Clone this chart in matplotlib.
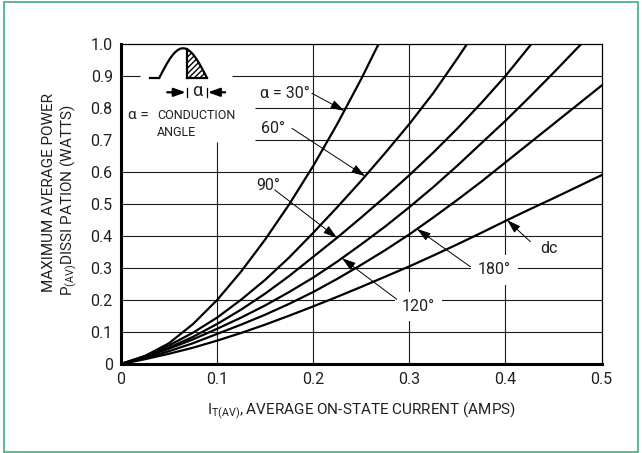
import numpy as np
import matplotlib
matplotlib.use('Agg')
import matplotlib.pyplot as plt
from matplotlib.patches import Rectangle

plt.rcParams['font.family'] = ['Roboto', 'DejaVu Sans']
plt.rcParams['mathtext.fontset'] = 'custom'
plt.rcParams['mathtext.rm'] = 'Roboto'
plt.rcParams['mathtext.it'] = 'Roboto'

ink = '#231f20'

# average on-state current (A) vs. max average power dissipation (W), per conduction angle
i_30 = [0, 0.025, 0.05, 0.075, 0.1, 0.125, 0.15, 0.175, 0.2, 0.225, 0.25, 0.268]
p_30 = [0, 0.025, 0.065, 0.125, 0.2, 0.289, 0.389, 0.499, 0.619, 0.75, 0.891, 1.0]

i_60 = [0, 0.025, 0.05, 0.075, 0.1, 0.125, 0.15, 0.175, 0.2, 0.225, 0.25, 0.275, 0.3,
        0.325, 0.35, 0.36]
p_60 = [0, 0.025, 0.058, 0.098, 0.145, 0.201, 0.263, 0.333, 0.41, 0.49, 0.573, 0.66, 0.75,
        0.847, 0.955, 1.0]

i_90 = [0, 0.025, 0.05, 0.075, 0.1, 0.125, 0.15, 0.175, 0.2, 0.225, 0.25, 0.275, 0.3,
        0.325, 0.35, 0.375, 0.4, 0.427]
p_90 = [0, 0.022, 0.051, 0.085, 0.125, 0.17, 0.22, 0.275, 0.335, 0.395, 0.458, 0.523, 0.59,
        0.661, 0.736, 0.816, 0.9, 1.0]

i_120 = [0, 0.025, 0.05, 0.075, 0.1, 0.125, 0.15, 0.175, 0.2, 0.225, 0.25, 0.275, 0.3,
         0.325, 0.35, 0.375, 0.4, 0.425, 0.45, 0.475, 0.479]
p_120 = [0, 0.022, 0.048, 0.077, 0.11, 0.145, 0.183, 0.225, 0.27, 0.32, 0.374, 0.43, 0.49,
         0.553, 0.62, 0.69, 0.76, 0.834, 0.91, 0.988, 1.0]

i_180 = [0, 0.025, 0.05, 0.075, 0.1, 0.125, 0.15, 0.175, 0.2, 0.225, 0.25, 0.275, 0.3,
         0.325, 0.35, 0.375, 0.4, 0.425, 0.45, 0.475, 0.5]
p_180 = [0, 0.018, 0.04, 0.065, 0.094, 0.123, 0.154, 0.188, 0.225, 0.266, 0.31, 0.356, 0.405,
         0.458, 0.513, 0.57, 0.63, 0.69, 0.75, 0.81, 0.87]

i_dc = [0, 0.025, 0.05, 0.075, 0.1, 0.125, 0.15, 0.175, 0.2, 0.225, 0.25, 0.275, 0.3,
        0.325, 0.35, 0.375, 0.4, 0.425, 0.45, 0.475, 0.5]
p_dc = [0, 0.015, 0.032, 0.051, 0.073, 0.097, 0.123, 0.151, 0.18, 0.21, 0.241, 0.273, 0.305,
        0.339, 0.374, 0.41, 0.447, 0.483, 0.518, 0.554, 0.59]

x_ticks = [0, 0.1, 0.2, 0.3, 0.4, 0.5]
x_ticklabels = ['0', '0.1', '0.2', '0.3', '0.4', '0.5']
y_ticks = [0, 0.1, 0.2, 0.3, 0.4, 0.5, 0.6, 0.7, 0.8, 0.9, 1.0]
y_ticklabels = ['0', '0.1', '0.2', '0.3', '0.4', '0.5', '0.6', '0.7', '0.8', '0.9', '1.0']

curves = [(i_30, p_30), (i_60, p_60), (i_90, p_90), (i_120, p_120), (i_180, p_180), (i_dc, p_dc)]
# label text, label position, arrow tail, arrow tip x
labels = [('α = 30°', (0.171, 0.846), (0.1986, 0.846), 0.2323),
          ('60°', (0.158, 0.7365), (0.1778, 0.7365), 0.254),
          ('90°', (0.153, 0.559), (0.160, 0.544), 0.2247),
          ('120°', (0.3097, 0.179), (0.287, 0.202), 0.2299),
          ('180°', (0.3884, 0.294), (0.3635, 0.304), 0.308),
          ('dc', (0.445, 0.3615), (0.426, 0.382), 0.4018)]

fig = plt.figure(figsize=(6.42, 4.53), dpi=100)
ax = fig.add_axes([0.1885, 0.1965, 0.7485, 0.7064])
ax.set_xlim(0, 0.5)
ax.set_ylim(0, 1.0)

# grid, with gaps where the inset legend sits
gkw = dict(color='#1a1a1a', lw=0.8, zorder=1)
for y in y_ticks[1:-1]:
    if y == 0.9:
        ax.hlines(y, 0, 0.0198, **gkw)
        ax.hlines(y, 0.1153, 0.5, **gkw)
    elif y in (0.7, 0.8):
        ax.hlines(y, 0.1396, 0.5, **gkw)
    else:
        ax.hlines(y, 0, 0.5, **gkw)
for x in x_ticks[1:-1]:
    if x == 0.1:
        ax.vlines(x, 0, 0.695, **gkw)
    else:
        ax.vlines(x, 0, 1.0, **gkw)

for xs, ps in curves:
    ax.plot(xs, ps, color='black', lw=1.6, zorder=3, solid_joinstyle='round')

for (txt, pos, tail, tip_x), (xs, ps) in zip(labels, curves):
    box = None
    if txt in ('120°', '180°'):
        box = dict(boxstyle='square,pad=0.45', fc='white', ec='none')
    ax.text(pos[0], pos[1], txt, ha='center', va='center', fontsize=11.5,
            color=ink, zorder=4, bbox=box)
    tip = (tip_x, np.interp(tip_x, xs, ps))
    ax.annotate('', xy=tip, xytext=tail, zorder=5,
                arrowprops=dict(arrowstyle='-|>,head_length=0.7,head_width=0.22',
                                lw=0.7, color='black', shrinkA=0, shrinkB=0,
                                mutation_scale=12))

# conduction angle sketch
yb, yp = 0.8947, 0.9866
x0, x1, xc, x2 = 0.0302, 0.0399, 0.0684, 0.0893
t = np.linspace(x1, x2, 80)
w = yb + (yp - yb) * np.sin(np.pi * (t - x1) / (x2 - x1))
ax.plot([x0, x1], [yb, yb], color='black', lw=1.6, zorder=6)
ax.plot(t, w, color='black', lw=1.6, zorder=6)
m = t >= xc
ax.fill_between(t[m], yb, w[m], facecolor='white', edgecolor='black', hatch='//////',
                lw=0, zorder=5)
wc = np.interp(xc, t, w)
ax.plot([xc, xc], [yb, wc], color='black', lw=1.6, zorder=6)
ax.plot([xc, x2], [yb, yb], color='black', lw=1.6, zorder=6)
ax.plot([xc, xc], [0.834, 0.8625], color='black', lw=0.9, zorder=6)
ax.plot([x2, x2], [0.834, 0.8625], color='black', lw=0.9, zorder=6)
akw = dict(arrowstyle='-|>,head_length=0.7,head_width=0.25', lw=1.6, color='black',
           shrinkA=0, shrinkB=0, mutation_scale=10)
ax.annotate('', xy=(xc - 0.001, 0.849), xytext=(0.048, 0.849), arrowprops=akw, zorder=6)
ax.annotate('', xy=(x2 + 0.001, 0.849), xytext=(0.1083, 0.849), arrowprops=akw, zorder=6)
ax.text((xc + x2) / 2, 0.853, 'α', ha='center', va='center', fontsize=13, color=ink)
ax.text(0.0073, 0.778, 'α =', ha='left', va='center', fontsize=11, color=ink)
ax.text(0.0375, 0.778, 'CONDUCTION', ha='left', va='center', fontsize=9, color=ink)
ax.text(0.0375, 0.723, 'ANGLE', ha='left', va='center', fontsize=9, color=ink)

ax.set_xticks(x_ticks)
ax.set_xticklabels(x_ticklabels)
ax.set_yticks(y_ticks)
ax.set_yticklabels(y_ticklabels)
ax.tick_params(length=0, pad=6, labelsize=11.5, colors=ink)
for s in ('left', 'bottom'):
    ax.spines[s].set_linewidth(2.2)
for s in ('top', 'right'):
    ax.spines[s].set_linewidth(0.9)
for s in ax.spines.values():
    s.set_color('black')

ax.set_xlabel(r'I$_{\mathrm{T(AV)}}$, AVERAGE ON-STATE CURRENT (AMPS)', fontsize=11,
              color=ink, labelpad=9)
fig.text(49 / 642, 1 - 192 / 453, 'MAXIMUM AVERAGE POWER', rotation=90,
         ha='center', va='center', fontsize=11, color=ink)
fig.text(69 / 642, 1 - 200 / 453, r'P$_{\mathrm{(AV)}}$DISSI PATION (WATTS)', rotation=90,
         ha='center', va='center', fontsize=11, color=ink)

fig.add_artist(Rectangle((4 / 642, 1.5 / 453), 634 / 642, 450 / 453, transform=fig.transFigure,
                         fill=False, ec='#3fae7f', lw=1.2))

fig.savefig('out.png', dpi=100)
